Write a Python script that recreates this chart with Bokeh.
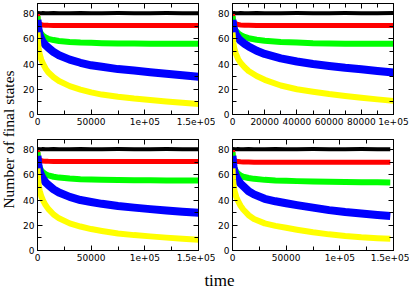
import json
from math import pi
from bokeh.plotting import figure
from bokeh.layouts import row, column
from bokeh.models import Range1d, LinearAxis, FixedTicker, CustomJSTickFormatter, Label
from bokeh.embed import file_html
from bokeh.resources import INLINE

# ---------------- data ----------------
Y_TICKS = [0, 20, 40, 60, 80]
Y_MINOR = [10, 30, 50, 70]
Y_LABELS = ["0", "20", "40", "60", "80"]

XA_TICKS = [0, 50000, 100000, 150000]
XA_MINOR = [25000, 75000, 125000]
XA_LABELS = ["0", "50000", "1e+05", "1.5e+05"]

XB_TICKS = [0, 20000, 40000, 60000, 80000, 100000]
XB_MINOR = [10000, 30000, 50000, 70000, 90000]
XB_LABELS = ["0", "20000", "40000", "60000", "80000", "1e+05"]

# top-left panel
t_tl = [0, 500, 1000, 2000, 3500, 5000, 7500, 10000, 15000, 20000, 30000, 40000, 50000,
        60000, 75000, 90000, 105000, 120000, 135000, 150000]
black_tl = [80.3, 80.3, 80.4, 80.3, 80.3, 80.4, 80.3, 80.3, 80.4, 80.3, 80.3, 80.4, 80.3,
            80.3, 80.4, 80.3, 80.3, 80.4, 80.3, 80.3]
red_tl = [80, 75, 73, 72, 71.3, 71, 70.8, 70.7, 70.6, 70.5, 70.5, 70.5, 70.5,
          70.5, 70.5, 70.5, 70.5, 70.5, 70.5, 70.5]
green_tl = [78, 72, 69, 66, 64, 62.5, 61, 60, 59, 58.3, 57.5, 57, 56.8,
            56.5, 56.3, 56.2, 56, 56, 56, 56]
blue_tl = [75, 70, 67, 63, 60, 57.5, 55, 53, 49.5, 47, 43.5, 41, 39,
           37.8, 36, 34.8, 33.5, 32.3, 31.2, 30]
yellow_tl = [65, 57, 53, 48, 43.5, 40.5, 36.5, 33.5, 29.5, 26.5, 22.5, 19.8, 17.5,
             15.8, 14, 12.6, 11.5, 10.3, 9.3, 8.3]

# top-right panel
t_tr = [0, 500, 1000, 2000, 3500, 5000, 7500, 10000, 15000, 20000, 30000, 40000, 50000,
        60000, 70000, 80000, 90000, 100000]
black_tr = [80.3, 80.3, 80.4, 80.3, 80.3, 80.4, 80.3, 80.3, 80.4, 80.3, 80.3, 80.4, 80.3,
            80.3, 80.4, 80.3, 80.3, 80.4]
red_tr = [80, 75, 73, 72, 71.3, 71, 70.8, 70.7, 70.6, 70.5, 70.5, 70.5, 70.5,
          70.5, 70.5, 70.5, 70.5, 70.5]
green_tr = [78, 72, 69, 66.5, 64.5, 63, 61.5, 60.5, 59.3, 58.5, 57.5, 57, 56.5,
            56.3, 56.1, 56, 56, 56]
blue_tr = [75, 70, 67, 63.5, 60.5, 58.5, 56, 54, 50.5, 48, 44.5, 42, 40,
           38.5, 37, 35.8, 34.5, 33.3]
yellow_tr = [65, 57, 53, 48.5, 44, 41, 37.5, 34.5, 30.5, 27.5, 23, 20, 18,
             16.2, 14.7, 13.3, 12, 10.8]

# bottom-left panel
t_bl = [0, 500, 1000, 2000, 3500, 5000, 7500, 10000, 15000, 20000, 30000, 40000, 50000,
        60000, 75000, 90000, 105000, 120000, 135000, 150000]
black_bl = [80.3, 80.3, 80.4, 80.3, 80.3, 80.4, 80.3, 80.3, 80.4, 80.3, 80.3, 80.4, 80.3,
            80.3, 80.4, 80.3, 80.3, 80.4, 80.3, 80.3]
red_bl = [80, 75, 73, 72, 71.3, 71, 70.8, 70.7, 70.6, 70.5, 70.5, 70.5, 70.5,
          70.5, 70.5, 70.5, 70.5, 70.5, 70.5, 70.5]
green_bl = [78, 72, 69, 66, 63.5, 62, 60.5, 59.5, 58.5, 57.8, 57, 56.5, 56.2,
            56, 55.8, 55.7, 55.6, 55.5, 55.5, 55.4]
blue_bl = [75, 70, 66.5, 62.5, 59.5, 57, 54, 52, 48.5, 46, 42.5, 40, 38.5,
           37, 35.3, 34, 32.8, 31.8, 30.8, 30]
yellow_bl = [65, 57, 52.5, 47.5, 43, 40, 36, 33, 28.5, 25.5, 21.5, 19, 17,
             15.5, 13.5, 12.2, 11.2, 10.2, 9.3, 8.5]

# bottom-right panel
t_br = [0, 500, 1000, 2000, 3500, 5000, 7500, 10000, 15000, 20000, 30000, 40000, 50000,
        60000, 75000, 90000, 105000, 120000, 135000, 147000]
black_br = [80.3, 80.3, 80.4, 80.3, 80.3, 80.4, 80.3, 80.3, 80.4, 80.3, 80.3, 80.4, 80.3,
            80.3, 80.4, 80.3, 80.3, 80.4, 80.3, 80.3]
red_br = [80, 75, 72.5, 71.5, 70.8, 70.5, 70.3, 70.2, 70.1, 70, 70, 70, 70,
          70, 70, 70, 70, 70, 70, 70]
green_br = [78, 71, 68, 65, 62.5, 61, 59.5, 58.5, 57.5, 56.8, 56, 55.5, 55.2,
            55, 54.7, 54.5, 54.3, 54.2, 54.1, 54]
blue_br = [75, 69.5, 66, 62, 58.5, 56, 53, 51, 47, 44.5, 41, 39, 37.5,
           36, 34, 32, 30.5, 29.3, 28.2, 27.3]
yellow_br = [65, 56.5, 52, 47, 42.5, 39.5, 35.5, 32.5, 28, 25, 21.5, 19.5, 18,
             16.5, 14.5, 12.8, 11.5, 10.5, 9.8, 9.3]

Y_LABEL = "Number of final states"
X_LABEL = "time"

# ---------------- styles ----------------
COLORS = ["black", "#ff0000", "#00ff00", "#0000ff", "#ffff00"]
WIDTHS = [4, 5, 6, 8, 6]
TICK_FONT = "DejaVu Sans"
TICK_SIZE = "9px"


def formatter(ticks, labels):
    m = {str(t): l for t, l in zip(ticks, labels)}
    return CustomJSTickFormatter(
        code="const m = %s; const k = String(tick); return (k in m) ? m[k] : '';" % json.dumps(m))


def style_axis(ax, show_labels):
    ax.axis_line_color = "black"
    ax.major_tick_in = 5
    ax.major_tick_out = 0
    ax.minor_tick_in = 4
    ax.minor_tick_out = 0
    ax.major_tick_line_color = "black"
    ax.minor_tick_line_color = "black"
    if show_labels:
        ax.major_label_text_font = TICK_FONT
        ax.major_label_text_font_size = TICK_SIZE
        ax.major_label_text_color = "black"
        ax.major_label_standoff = 3
    else:
        ax.major_label_text_font_size = "0px"
        ax.major_label_standoff = 0


def panel(times, series, xmax, xt, xm, xl, w, h, bl, br, bt, bb):
    p = figure(width=w, height=h, x_range=Range1d(0, xmax), y_range=Range1d(0, 88),
               output_backend="svg", toolbar_location=None, title=None,
               min_border_left=bl, min_border_right=br, min_border_top=bt, min_border_bottom=bb)
    p.xgrid.visible = False
    p.ygrid.visible = False
    p.outline_line_color = "black"
    p.outline_line_width = 1
    p.xaxis.ticker = FixedTicker(ticks=xt, minor_ticks=xm)
    p.xaxis.formatter = formatter(xt, xl)
    p.yaxis.ticker = FixedTicker(ticks=Y_TICKS, minor_ticks=Y_MINOR)
    p.yaxis.formatter = formatter(Y_TICKS, Y_LABELS)
    style_axis(p.xaxis[0], True)
    style_axis(p.yaxis[0], True)
    top = LinearAxis(ticker=FixedTicker(ticks=xt, minor_ticks=xm))
    right = LinearAxis(ticker=FixedTicker(ticks=Y_TICKS, minor_ticks=Y_MINOR))
    style_axis(top, False)
    style_axis(right, False)
    p.add_layout(top, "above")
    p.add_layout(right, "right")
    for ys, c, lw in zip(series, COLORS, WIDTHS):
        p.line(times, ys, line_color=c, line_width=lw, line_join="round")
    return p


tl = panel(t_tl, [black_tl, red_tl, green_tl, blue_tl, yellow_tl], 150000,
           XA_TICKS, XA_MINOR, XA_LABELS, 195, 136, 17, 17, 3, 22)
tr = panel(t_tr, [black_tr, red_tr, green_tr, blue_tr, yellow_tr], 100000,
           XB_TICKS, XB_MINOR, XB_LABELS, 194, 136, 16, 16, 3, 22)
bl_ = panel(t_bl, [black_bl, red_bl, green_bl, blue_bl, yellow_bl], 150000,
            XA_TICKS, XA_MINOR, XA_LABELS, 195, 132, 17, 17, 3, 18)
br_ = panel(t_br, [black_br, red_br, green_br, blue_br, yellow_br], 150000,
            XA_TICKS, XA_MINOR, XA_LABELS, 194, 132, 16, 16, 3, 18)


def text_fig(w, h):
    f = figure(width=w, height=h, x_range=Range1d(0, w), y_range=Range1d(0, h),
               output_backend="svg", toolbar_location=None, title=None,
               x_axis_location=None, y_axis_location=None,
               min_border_left=0, min_border_right=0, min_border_top=0, min_border_bottom=0)
    f.xgrid.visible = False
    f.ygrid.visible = False
    f.outline_line_color = None
    return f


ylab = text_fig(20, 268)
ylab.add_layout(Label(x=8, y=268 - 139, text=Y_LABEL, angle=pi / 2,
                      text_font="Liberation Serif", text_font_size="15.5px",
                      text_align="center", text_baseline="middle", text_color="black"))

xlab = text_fig(409, 21)
xlab.add_layout(Label(x=219, y=9, text=X_LABEL,
                      text_font="Liberation Serif", text_font_size="17px",
                      text_align="center", text_baseline="middle", text_color="black"))

layout = column(row(ylab, column(row(tl, tr), row(bl_, br_))), xlab)

open("out.html", "w").write(file_html(layout, INLINE))
